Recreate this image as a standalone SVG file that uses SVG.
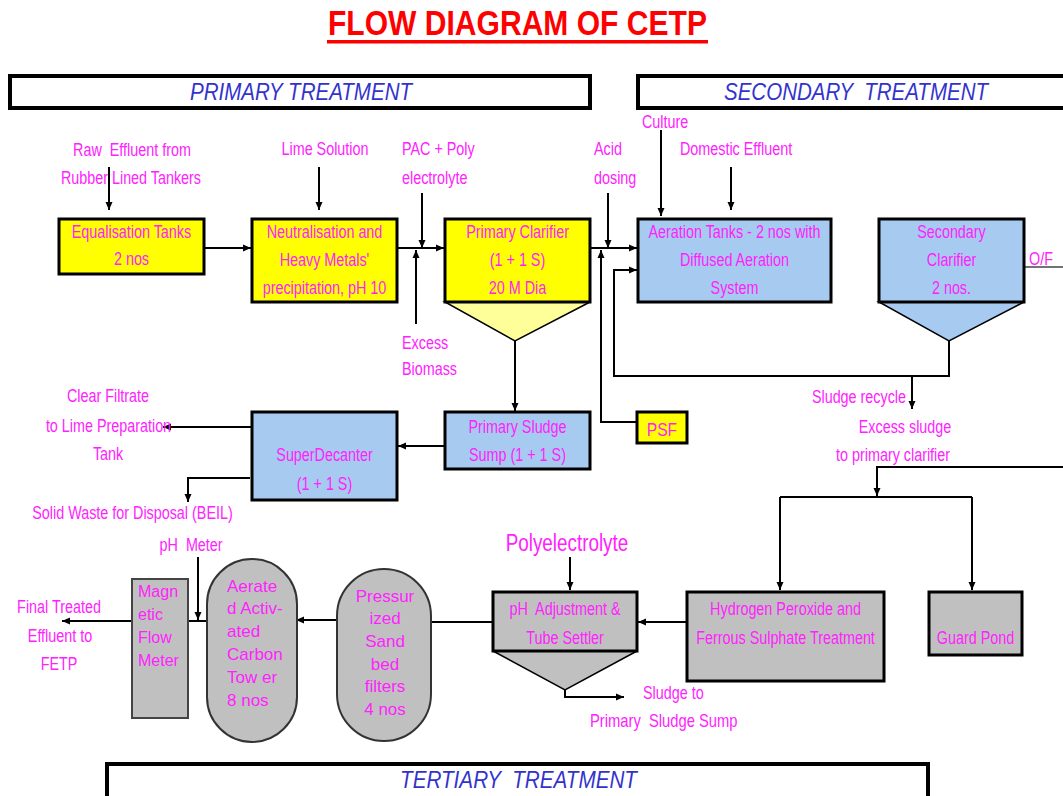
<svg xmlns="http://www.w3.org/2000/svg" width="1063" height="796" viewBox="0 0 1063 796">
  <defs>
    <marker id="arrow" markerUnits="userSpaceOnUse" markerWidth="9" markerHeight="8" refX="8" refY="4" orient="auto">
      <path d="M0,0.5 L8,4 L0,7.5 z" fill="#000"/>
    </marker>
    <style>
      /* narrow magenta captions: regular sans squeezed horizontally */
      .lbl { font-family: "Liberation Sans", Arial, sans-serif; font-size: 17.5px; fill: #FF22FF;
             transform-box: fill-box; transform-origin: 50% 50%; transform: scaleX(0.82); }
      .st { transform-origin: 0 50%; }
      .pre { white-space: pre; }
      .reg { font-family: "Liberation Sans", Arial, sans-serif; font-size: 17px; fill: #FF22FF; }
      .mid { text-anchor: middle; }
      .end { text-anchor: end; transform-origin: 100% 50%; }
      .hdr { font-family: "Liberation Sans", Arial, sans-serif; font-style: italic; font-size: 24px; fill: #3333CC; white-space: pre; }
      .band { fill: #fff; stroke: #000; stroke-width: 4; }
      .yel { fill: #FFFF00; stroke: #000; stroke-width: 3; }
      .blu { fill: #A6CAF0; stroke: #000; stroke-width: 3; }
      .gry { fill: #C0C0C0; stroke: #000; stroke-width: 3; }
      .cone { stroke: #000; stroke-width: 1.5; stroke-linejoin: miter; }
      .tank { fill: #C0C0C0; stroke: #333; stroke-width: 2; }
      .conn path { fill: none; stroke: #000; stroke-width: 2; }
      .conn .arr { marker-end: url(#arrow); }
    </style>
  </defs>

  <rect width="1063" height="796" fill="#fff"/>

  <!-- Title -->
  <g id="title">
    <text x="328" y="35" textLength="379" lengthAdjust="spacingAndGlyphs" style="font-family: 'Liberation Sans', Arial, sans-serif; font-weight: bold; font-size: 35px; fill: #FF0000;">FLOW DIAGRAM OF CETP</text>
    <rect x="327" y="40" width="381" height="3.5" fill="#FF0000"/>
  </g>

  <!-- Section bands -->
  <g id="band-primary">
    <rect class="band" x="10" y="76" width="580" height="32"/>
    <text class="hdr" x="190" y="100" textLength="222" lengthAdjust="spacingAndGlyphs">PRIMARY TREATMENT</text>
  </g>
  <g id="band-secondary">
    <rect class="band" x="638" y="76" width="440" height="32"/>
    <text class="hdr" x="724" y="100" textLength="264" lengthAdjust="spacingAndGlyphs">SECONDARY  TREATMENT</text>
  </g>
  <g id="band-tertiary">
    <rect class="band" x="107" y="764" width="821" height="50"/>
    <text class="hdr" x="400" y="788" textLength="237" lengthAdjust="spacingAndGlyphs">TERTIARY  TREATMENT</text>
  </g>

  <!-- Connectors -->
  <g id="connectors" class="conn">
    <path class="arr" d="M109,167 V210"/>
    <path class="arr" d="M319,167 V210"/>
    <path class="arr" d="M204,248 H251"/>
    <path class="arr" d="M397,248 H444"/>
    <path class="arr" d="M422,193 V248"/>
    <path class="arr" d="M416,324 V250"/>
    <path class="arr" d="M590,248 H637"/>
    <path class="arr" d="M608,193 V248"/>
    <path class="arr" d="M637,422 H601 V250"/>
    <path class="arr" d="M949,341 V376 H614 V270 H637"/>
    <path class="arr" d="M912,376 V409"/>
    <path class="arr" d="M661,130 V216"/>
    <path class="arr" d="M731,167 V210"/>
    <path class="arr" d="M515,341 V411"/>
    <path class="arr" d="M445,446 H398"/>
    <path class="arr" d="M252,427 H163"/>
    <path class="arr" d="M250,478 H188 V502"/>
    <path d="M1022,267 H1063" style="stroke:#444;stroke-width:1.5"/>
    <path class="arr" d="M1063,467 H877 V496"/>
    <path d="M780,497 H972"/>
    <path class="arr" d="M780,497 V590"/>
    <path class="arr" d="M972,497 V590"/>
    <path class="arr" d="M570,557 V590"/>
    <path class="arr" d="M687,622 H638"/>
    <path class="arr" d="M493,622 H417"/>
    <path class="arr" d="M565,690 V697 H624"/>
    <path class="arr" d="M337,620 H296"/>
    <path d="M207,621 H188"/>
    <path class="arr" d="M198,557 V620"/>
    <path class="arr" d="M132,621 H62"/>
  </g>

  <!-- Primary treatment -->
  <g id="equalisation">
    <rect class="yel" x="59" y="219" width="145" height="55"/>
    <text class="lbl mid" x="131.5" y="238">Equalisation Tanks</text>
    <text class="lbl mid" x="131.5" y="265">2 nos</text>
  </g>
  <g id="neutralisation">
    <rect class="yel" x="252" y="219" width="145" height="83"/>
    <text class="lbl mid" x="324.5" y="238">Neutralisation and</text>
    <text class="lbl mid" x="324.5" y="266">Heavy Metals'</text>
    <text class="lbl mid" x="324.5" y="294">precipitation, pH 10</text>
  </g>
  <g id="primary-clarifier">
    <polygon class="cone" points="445,302 590,302 515,341" fill="#FFFF99"/>
    <rect class="yel" x="445" y="219" width="145" height="83"/>
    <text class="lbl mid" x="517.5" y="238">Primary Clarifier</text>
    <text class="lbl mid" x="517.5" y="266">(1 + 1 S)</text>
    <text class="lbl mid" x="517.5" y="294">20 M Dia</text>
  </g>
  <g id="sludge-sump">
    <rect class="blu" x="445" y="412" width="145" height="57"/>
    <text class="lbl mid" x="517.5" y="433">Primary Sludge</text>
    <text class="lbl mid" x="517.5" y="461">Sump (1 + 1 S)</text>
  </g>
  <g id="superdecanter">
    <rect class="blu" x="252" y="412" width="145" height="88"/>
    <text class="lbl mid" x="324.5" y="461">SuperDecanter</text>
    <text class="lbl mid" x="324.5" y="490">(1 + 1 S)</text>
  </g>
  <g id="psf">
    <rect class="yel" x="637" y="412" width="50" height="31"/>
    <text class="lbl mid" x="662" y="436" style="font-size:19px">PSF</text>
  </g>

  <!-- Secondary treatment -->
  <g id="aeration">
    <rect class="blu" x="638" y="219" width="193" height="83"/>
    <text class="lbl mid" x="734.5" y="238">Aeration Tanks - 2 nos with</text>
    <text class="lbl mid" x="734.5" y="266">Diffused Aeration</text>
    <text class="lbl mid" x="734.5" y="294">System</text>
  </g>
  <g id="secondary-clarifier">
    <polygon class="cone" points="879,302 1024,302 949,341" fill="#A6CAF0"/>
    <rect class="blu" x="879" y="219" width="145" height="83"/>
    <text class="lbl mid" x="951.5" y="238">Secondary</text>
    <text class="lbl mid" x="951.5" y="266">Clarifier</text>
    <text class="lbl mid" x="951.5" y="294">2 nos.</text>
  </g>

  <!-- Tertiary treatment -->
  <g id="peroxide">
    <rect class="gry" x="687" y="592" width="197" height="89"/>
    <text class="lbl mid" x="785.5" y="615">Hydrogen Peroxide and</text>
    <text class="lbl mid" x="785.5" y="644">Ferrous Sulphate Treatment</text>
  </g>
  <g id="guard-pond">
    <rect class="gry" x="929" y="592" width="93" height="63"/>
    <text class="lbl mid" x="975.5" y="644">Guard Pond</text>
  </g>
  <g id="tube-settler">
    <polygon class="cone" points="493,651 637,651 565,690" fill="#C0C0C0"/>
    <rect class="gry" x="493" y="592" width="144" height="59"/>
    <text class="lbl mid pre" x="565" y="615">pH  Adjustment &amp;</text>
    <text class="lbl mid" x="565" y="644">Tube Settler</text>
  </g>
  <g id="sand-filters">
    <rect class="tank" x="337" y="569" width="94" height="172" rx="47" ry="47"/>
    <text class="reg mid" x="385" y="602">Pressur</text>
    <text class="reg mid" x="385" y="624">ized</text>
    <text class="reg mid" x="385" y="647">Sand</text>
    <text class="reg mid" x="385" y="670">bed</text>
    <text class="reg mid" x="385" y="692">filters</text>
    <text class="reg mid" x="385" y="715">4 nos</text>
  </g>
  <g id="carbon-tower">
    <rect class="tank" x="207" y="559" width="90" height="183" rx="45" ry="45"/>
    <text class="reg" x="227" y="592">Aerate</text>
    <text class="reg" x="227" y="614">d Activ-</text>
    <text class="reg" x="227" y="637">ated</text>
    <text class="reg" x="227" y="660">Carbon</text>
    <text class="reg" x="227" y="683">Tow er</text>
    <text class="reg" x="227" y="706">8 nos</text>
  </g>
  <g id="flow-meter">
    <rect x="132" y="579" width="56" height="139" fill="#C0C0C0" stroke="#444" stroke-width="2"/>
    <text class="reg" x="138" y="597" style="font-size:16px">Magn</text>
    <text class="reg" x="138" y="620" style="font-size:16px">etic</text>
    <text class="reg" x="138" y="643" style="font-size:16px">Flow</text>
    <text class="reg" x="138" y="666" style="font-size:16px">Meter</text>
  </g>

  <!-- Stream labels -->
  <g id="labels">
    <text class="lbl mid pre" x="132" y="156">Raw  Effluent from</text>
    <text class="lbl mid" x="131" y="184">Rubber Lined Tankers</text>
    <text class="lbl mid" x="325" y="155">Lime Solution</text>
    <text class="lbl st" x="402" y="155">PAC + Poly</text>
    <text class="lbl st" x="402" y="184">electrolyte</text>
    <text class="lbl st" x="594" y="155">Acid</text>
    <text class="lbl st" x="594" y="184">dosing</text>
    <text class="lbl st" x="642" y="128">Culture</text>
    <text class="lbl st" x="680" y="155">Domestic Effluent</text>
    <text class="lbl st" x="1029" y="265">O/F</text>
    <text class="lbl st" x="402" y="349">Excess</text>
    <text class="lbl st" x="402" y="375">Biomass</text>
    <text class="lbl mid" x="108" y="402">Clear Filtrate</text>
    <text class="lbl mid" x="108.5" y="432">to Lime Preparation</text>
    <text class="lbl mid" x="108" y="460">Tank</text>
    <text class="lbl mid" x="132.5" y="519">Solid Waste for Disposal (BEIL)</text>
    <text class="lbl end" x="906" y="403">Sludge recycle</text>
    <text class="lbl mid" x="905" y="433">Excess sludge</text>
    <text class="lbl mid" x="893" y="461">to primary clarifier</text>
    <text class="lbl mid" x="567" y="551" style="font-size:23px">Polyelectrolyte</text>
    <text class="lbl mid pre" x="191" y="551">pH  Meter</text>
    <text class="lbl mid" x="59" y="613">Final Treated</text>
    <text class="lbl mid" x="60" y="642">Effluent to</text>
    <text class="lbl mid" x="59" y="670">FETP</text>
    <text class="lbl st" x="643" y="699">Sludge to</text>
    <text class="lbl st pre" x="590" y="727" style="font-size:18px">Primary  Sludge Sump</text>
  </g>
</svg>
